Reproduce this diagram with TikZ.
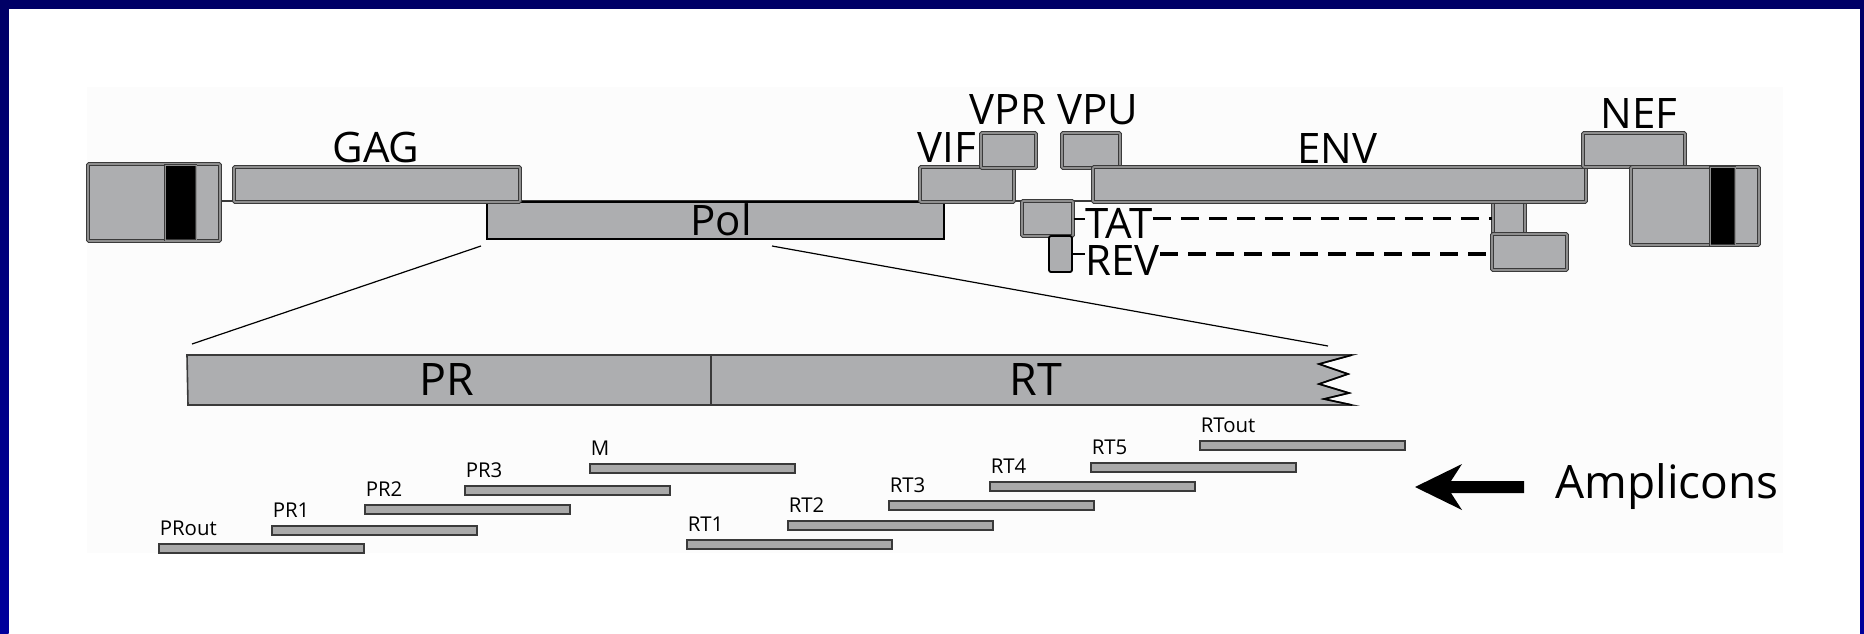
\documentclass[tikz,border=0pt]{standalone}
\usepackage{fontspec}
\setmainfont{Open Sans}
\usetikzlibrary{fit,calc}
\definecolor{navy}{HTML}{000066}
\definecolor{navyb}{HTML}{00009C}
\definecolor{boxfill}{HTML}{ADAEB0}
\definecolor{boxline}{HTML}{3A3A3A}
\definecolor{boxgap}{HTML}{8E8E8E}
\definecolor{barfill}{HTML}{A9A9A9}
\definecolor{faint}{HTML}{FCFCFC}
\tikzset{
  gbox/.style={draw=boxline, double=boxgap, line width=0.55pt, double distance=0.8pt, fill=boxfill, inner sep=0pt, rounded corners=0.5pt},
  blackbox/.style={draw=black, line width=1.1pt, fill=boxfill, inner sep=0pt},
  bandbox/.style={fill=black, draw=boxline, double=boxgap, line width=0.4pt, double distance=0.5pt, inner sep=0pt},
  ampbar/.style={draw=boxline, line width=0.6pt, fill=barfill, inner sep=0pt},
  biglab/.style={font=\fontsize{21}{25}\selectfont, inner sep=0pt, anchor=base},
  boxlab/.style={font=\fontsize{22.4}{26}\selectfont, inner sep=0pt, anchor=base},
  smalllab/.style={font=\fontsize{10.2}{12}\selectfont, inner sep=0pt, anchor=base west},
  tick/.style={draw=black, line width=1pt},
  exonlink/.style={draw=black, line width=1.6pt, dash pattern=on 9pt off 5pt},
  zoomline/.style={draw=black, line width=0.6pt},
}
\newcommand\Amplicon[4]{%
  \node[ampbar, fit={(#2,#3) (#2+205,#3+9)}] (#1) {};
  \node[smalllab] (#1l) at ($(#1.north west)+(1,-7.5)$) {#4};
}
\begin{document}
\begin{tikzpicture}[x=0.5pt, y=-0.5pt]
\useasboundingbox (0,0) rectangle (1864,633);
\fill[white] (0,0) rectangle (1864,633);
\fill[faint] (87,87) rectangle (1783,553);
\shade[top color=navy, bottom color=navyb] (0,0) rectangle (8.5,633);
\shade[top color=navy, bottom color=navyb] (1860,0) rectangle (1864,633);
\fill[navy] (0,0) rectangle (1864,8.5);

% genome backbone
\coordinate (bb1) at (220,201);
\coordinate (bb2) at (1094,201);
\draw[boxline, line width=0.8pt] (bb1) -- (bb2);

% genome boxes
\node[blackbox, fit={(487,202) (944,239)}] (pol) {};
\node[gbox, fit={(88,164) (220,241)}] (ltrL) {};
\node[bandbox, fit={(165,165) (196,240)}] (ltrLb) {};
\node[gbox, fit={(234,167) (520,202)}] (gag) {};
\node[gbox, fit={(920,167) (1014,202)}] (vif) {};
\node[gbox, fit={(981,133) (1036,168)}] (vpr) {};
\node[gbox, fit={(1062,133) (1120,168)}] (vpu) {};
\node[gbox, fit={(1022,201) (1073,236)}] (tat1) {};
\node[blackbox, line width=0.9pt, rounded corners=1pt, fit={(1049,236) (1072,272)}] (rev1) {};
\node[gbox, fit={(1493,201) (1525,235)}] (tat2) {};
\node[gbox, fit={(1093,167) (1586,202)}] (env) {};
\node[gbox, fit={(1492,234) (1567,270)}] (rev2) {};
\node[gbox, fit={(1583,133) (1685,167)}] (nef) {};
\node[gbox, fit={(1631,167) (1759,245)}] (ltrR) {};
\node[bandbox, fit={(1710,167) (1735,245)}] (ltrRb) {};

% genome labels
\node[biglab] (gagl) at (376,162) {GAG};
\node[biglab] (vifl) at (947,162) {VIF};
\node[biglab] (vprl) at (1008,124) {VPR};
\node[biglab] (vpul) at (1098,124) {VPU};
\node[biglab] (envl) at (1337,163) {ENV};
\node[biglab] (nefl) at (1639,128) {NEF};
\node[biglab] (poll) at (721,235) {Pol};
\node[biglab, anchor=base west] (tatl) at (1085,238) {TAT};
\node[biglab, anchor=base west] (revl) at (1085,275) {REV};

% TAT / REV links
\draw[tick] (tat1.east) -- (tat1.east -| tatl.west);
\draw[tick] (rev1.east) -- (rev1.east -| revl.west);
\draw[exonlink] (tatl.east |- tat1.east) -- (tat1.east -| tat2.west);
\draw[exonlink] (revl.east |- rev1.east) -- (rev1.east -| rev2.west);

% zoom lines
\coordinate (z1) at (481,246);
\coordinate (z2) at (192,344);
\coordinate (z3) at (772,246);
\coordinate (z4) at (1328,346);
\draw[zoomline] (z1) -- (z2);
\draw[zoomline] (z3) -- (z4);

% PR / RT expanded box
\filldraw[fill=boxfill, draw=boxline, line width=0.8pt] (187,355) -- (1352,355) -- (1319,364) -- (1348,374) -- (1319,384) -- (1349,393) -- (1324,399) -- (1352,405) -- (188,405) -- cycle;
\draw[black, line width=0.8pt] (1352,355) -- (1319,364) -- (1348,374) -- (1319,384) -- (1349,393) -- (1324,399) -- (1352,405);
\draw[boxline, line width=0.8pt] (711,355) -- (711,405);
\node[boxlab] (prl) at (447,395) {PR};
\node[boxlab] (rtl) at (1036,395) {RT};

% amplicons
\Amplicon{prout}{159}{544}{PRout}
\Amplicon{pr1}{272}{526}{PR1}
\Amplicon{pr2}{365}{505}{PR2}
\Amplicon{pr3}{465}{486}{PR3}
\Amplicon{mm}{590}{464}{M}
\Amplicon{rt1}{687}{540}{RT1}
\Amplicon{rt2}{788}{521}{RT2}
\Amplicon{rt3}{889}{501}{RT3}
\Amplicon{rt4}{990}{482}{RT4}
\Amplicon{rt5}{1091}{463}{RT5}
\Amplicon{rtout}{1200}{441}{RTout}

% arrow + legend
\fill[black] (1415,487) -- (1462,464) -- (1451,481) -- (1524,481) -- (1524,493) -- (1451,493) -- (1462,510) -- cycle;
\node[font=\fontsize{23}{27}\selectfont, inner sep=0pt, anchor=base west] (ampl) at (1555,498) {Amplicons};
\end{tikzpicture}
\end{document}
